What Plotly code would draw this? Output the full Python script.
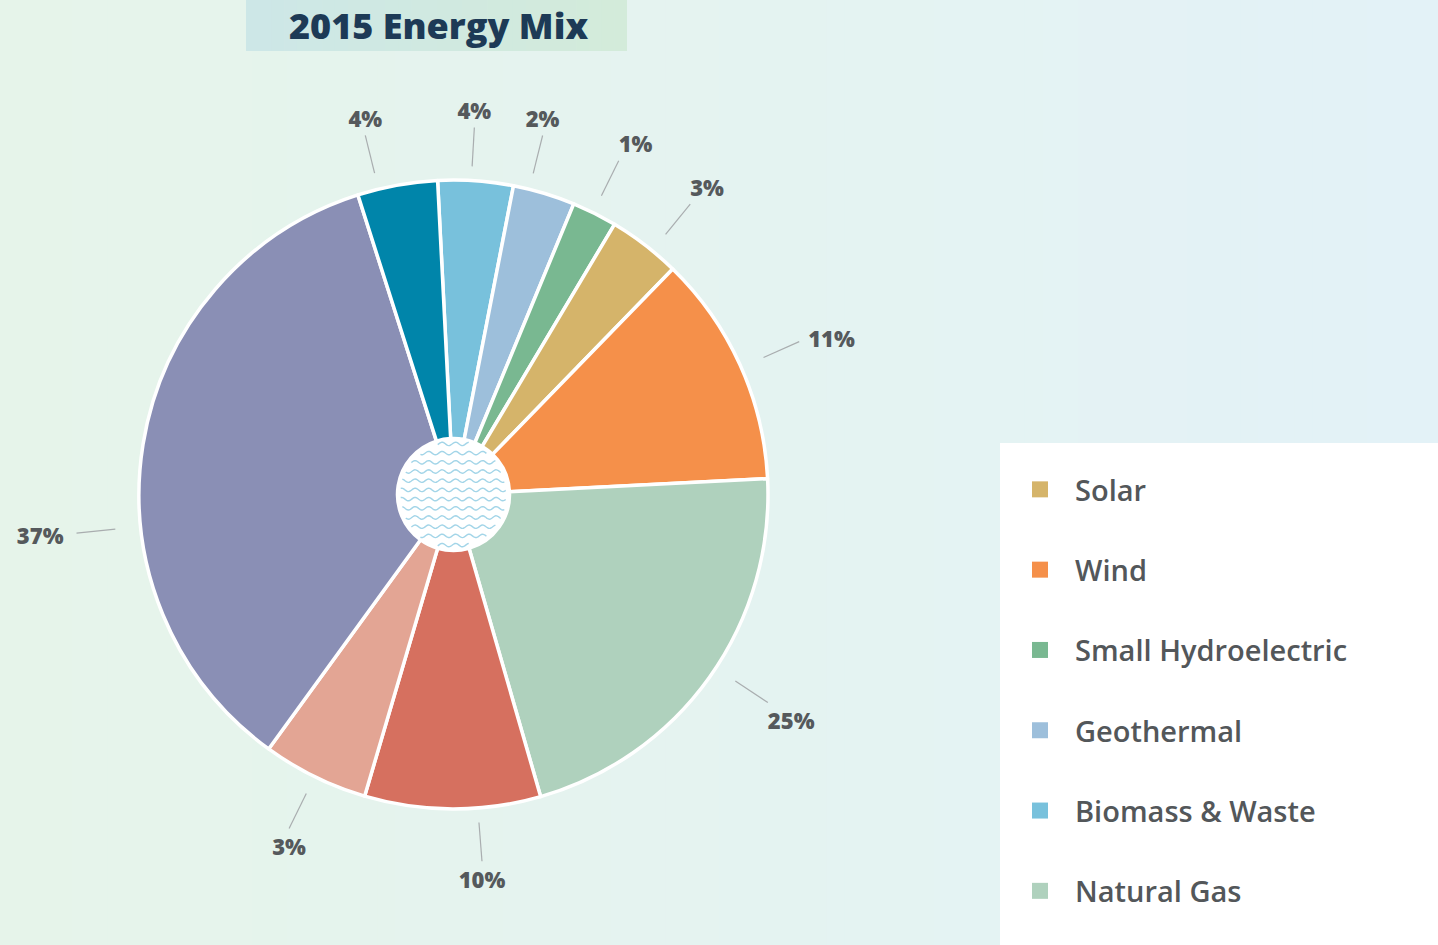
import math
import plotly.graph_objects as go

# ---------------- data ----------------
slice_labels = ["Biomass & Waste", "Geothermal", "Small Hydroelectric", "Solar", "Wind",
                "Natural Gas", "Coal", "Nuclear", "Petroleum", "Large Hydroelectric"]
slice_values = [3.86, 3.19, 2.31, 3.72, 11.92, 21.33, 9.03, 5.44, 35.08, 4.11]
slice_text = ["4%", "2%", "1%", "3%", "11%", "25%", "10%", "3%", "37%", "4%"]
slice_colors = ["#78c1dc", "#9dbfdb", "#79b891", "#d5b46a", "#f5904a",
                "#afd1bd", "#d6705f", "#e3a594", "#8a8fb5", "#0085aa"]
legend_order = ["Solar", "Wind", "Small Hydroelectric", "Geothermal", "Biomass & Waste", "Natural Gas"]
title_text = "2015 Energy Mix"

# ---------------- layout / style constants ----------------
W, H = 1438, 945
CX, CY = 453.5, 494.5      # pie centre in px
R = 314.5                  # pie radius in px
RQ = 440.0                 # polar overlay radius in px
START_ANGLE = -2.9         # first slice starts here (deg clockwise from 12 o'clock)
LABEL_NUDGE = [-0.8, -2.8, -0.3, 1.7, 0.5, -2.0, -4.6, 0.0, -15.0, -3.5]  # leader angle tweaks (deg)
FONT = "Open Sans"


def pxx(x):
    return x / W


def pxy(y):
    return 1 - y / H


fig = go.Figure()

# pie
fig.add_trace(go.Pie(
    labels=slice_labels, values=slice_values, text=slice_text,
    marker=dict(colors=slice_colors, line=dict(color="white", width=3.5)),
    hole=56 / R, sort=False, direction="clockwise", rotation=START_ANGLE,
    textinfo="none", hoverinfo="label+text", showlegend=False,
    domain=dict(x=[pxx(CX - R), pxx(CX + R)], y=[pxy(CY + R), pxy(CY - R)]),
))

# leader lines and labels in an aligned polar overlay
total = sum(slice_values)
mids = []
acc = 0.0
for v, nd in zip(slice_values, LABEL_NUDGE):
    mids.append(START_ANGLE + (acc + v / 2) / total * 360.0 + nd)
    acc += v


def pos_for(angle):
    a = angle % 360
    if a >= 345 or a < 15:
        return "top center"
    if a < 60:
        return "top right"
    if a < 110:
        return "middle right"
    if a < 160:
        return "bottom right"
    if a < 210:
        return "bottom center"
    if a < 250:
        return "bottom left"
    if a < 290:
        return "middle left"
    return "top left"


def gap_for(pos):
    if pos.startswith("top"):
        return 0.0, -3.0
    if pos.startswith("bottom"):
        return 0.0, 10.0
    if pos == "middle right":
        return 9.0, 0.0
    return -13.0, 5.0


line_r, line_t, text_r, text_t, text_pos = [], [], [], [], []
for m in mids:
    s = abs(math.sin(math.radians(m)))
    ri = 328 + 12 * s
    ro = 367 + 12 * s
    line_r += [ri / R, ro / R, None]
    line_t += [m, m, None]
    p = pos_for(m)
    gx, gy = gap_for(p)
    ex = ro * math.sin(math.radians(m)) + gx
    ey = -ro * math.cos(math.radians(m)) + gy
    text_r.append(math.hypot(ex, ey) / R)
    text_t.append(math.degrees(math.atan2(ex, -ey)))
    text_pos.append(p)

fig.add_trace(go.Scatterpolar(
    r=line_r, theta=line_t, mode="lines",
    line=dict(color="#a9adaf", width=1.2), hoverinfo="skip", showlegend=False,
))
fig.add_trace(go.Scatterpolar(
    r=text_r, theta=text_t, mode="text", text=slice_text, textposition=text_pos,
    textfont=dict(family=FONT, size=22, color="#55595c", weight=800),
    hoverinfo="skip", showlegend=False,
))

# legend entries (dummy traces)
color_of = dict(zip(slice_labels, slice_colors))
for name in legend_order:
    fig.add_trace(go.Scatter(
        x=[None], y=[None], mode="markers", name=name, legendgroup=name,
        marker=dict(symbol="square", size=20, color=color_of[name]),
    ))

shapes = []
# background gradient (left green -> right blue)
c0 = (230, 244, 234)
c1 = (227, 242, 247)
N = 80
for i in range(N):
    t = i / (N - 1)
    col = "rgb(%d,%d,%d)" % tuple(round(c0[k] + (c1[k] - c0[k]) * t) for k in range(3))
    shapes.append(dict(type="rect", xref="paper", yref="paper", layer="below",
                       x0=i / N, x1=(i + 1) / N + 0.002, y0=0, y1=1,
                       line=dict(width=0), fillcolor=col))

# legend white panel
shapes.append(dict(type="rect", xref="paper", yref="paper", layer="below",
                   x0=pxx(1000), x1=1, y0=0, y1=pxy(443), line=dict(width=0), fillcolor="white"))

# title box gradient
t0 = (205, 231, 231)
t1 = (211, 235, 218)
NT = 30
bx0, bx1 = 246, 627
for i in range(NT):
    t = i / (NT - 1)
    col = "rgb(%d,%d,%d)" % tuple(round(t0[k] + (t1[k] - t0[k]) * t) for k in range(3))
    xa = bx0 + (bx1 - bx0) * i / NT
    xb = bx0 + (bx1 - bx0) * (i + 1) / NT + 0.6
    shapes.append(dict(type="rect", xref="paper", yref="paper", layer="below",
                       x0=pxx(xa), x1=pxx(min(xb, bx1)), y0=pxy(51), y1=1,
                       line=dict(width=0), fillcolor=col))

# hole: white disc with wavy lines
shapes.append(dict(type="circle", xref="paper", yref="paper", layer="below",
                   x0=pxx(CX - 58), x1=pxx(CX + 58), y0=pxy(CY + 58), y1=pxy(CY - 58),
                   line=dict(width=0), fillcolor="white"))
inner = 53.0
for k in range(12):
    dy = -50.6 + k * 9.2
    half = math.sqrt(max(inner ** 2 - dy ** 2, 0))
    xs = []
    x = -half
    while x <= half:
        xs.append(x)
        x += 1.0
    pts = []
    for j, xv in enumerate(xs):
        yv = dy + 1.7 * math.sin(2 * math.pi * (xv + CX) / 13.5)
        pts.append(("M" if j == 0 else "L") + "%.5f,%.5f" % (pxx(CX + xv), pxy(CY + yv)))
    shapes.append(dict(type="path", xref="paper", yref="paper", layer="above",
                       path=" ".join(pts), line=dict(color="#a3d5e8", width=1.4)))

fig.update_layout(
    width=W, height=H, margin=dict(l=0, r=0, t=0, b=0),
    paper_bgcolor="#e4f3f0", plot_bgcolor="rgba(0,0,0,0)",
    font=dict(family=FONT),
    xaxis=dict(visible=False), yaxis=dict(visible=False),
    polar=dict(
        domain=dict(x=[pxx(CX - RQ), pxx(CX + RQ)], y=[pxy(CY + RQ), pxy(CY - RQ)]),
        bgcolor="rgba(0,0,0,0)",
        radialaxis=dict(visible=False, range=[0, RQ / R]),
        angularaxis=dict(visible=False, rotation=90, direction="clockwise"),
    ),
    showlegend=True,
    legend=dict(
        x=pxx(1005), y=pxy(464), xanchor="left", yanchor="top",
        bgcolor="rgba(0,0,0,0)", traceorder="grouped", tracegroupgap=39.6,
        itemwidth=60, font=dict(family=FONT, size=29, color="#53575a", weight=600),
    ),
    shapes=shapes,
    annotations=[dict(
        text=title_text, xref="paper", yref="paper",
        x=pxx(439), y=pxy(26), xanchor="center", yanchor="middle", showarrow=False,
        font=dict(family=FONT, size=36, color="#1d3a56", weight=800),
    )],
)

fig.write_html("out.html", config={"displayModeBar": False},
               post_script="document.body.style.margin='0';document.body.style.padding='0';")
